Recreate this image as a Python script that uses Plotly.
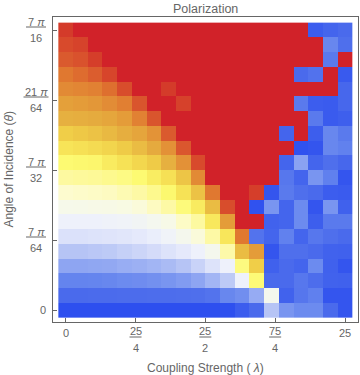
import math
import plotly.graph_objects as go

# ---- data -------------------------------------------------------------
n = 20
coupling = [25 * i / (n - 1) for i in range(n)]                  # lambda
angles = [(7 * math.pi / 16) * j / (n - 1) for j in range(n)]    # theta

# polarization levels (0 = blue ... 20 = red), rows listed from top (theta max) to bottom (theta 0)
levels_top_down = [
    [19, 20, 20, 20, 20, 20, 20, 20, 20, 20, 20, 20, 20, 20, 20, 20, 20, 0.5, 0.8, 1.0],
    [18, 18.5, 20, 20, 20, 20, 20, 20, 20, 20, 20, 20, 20, 20, 20, 20, 20, 20, 2.1, 1.2],
    [17, 17.5, 18.8, 20, 20, 20, 20, 20, 20, 20, 20, 20, 20, 20, 20, 20, 20, 20, 1.6, 20],
    [16, 16.4, 16.9, 18.3, 20, 20, 20, 20, 20, 20, 20, 20, 20, 20, 20, 20, 1.0, 1.3, 20, 0.4],
    [15, 15.2, 15.5, 16.3, 17.8, 20, 20, 19, 20, 20, 20, 20, 20, 20, 20, 20, 20, 20, 20, 0.9],
    [14, 14.2, 14.4, 14.9, 15.6, 17.3, 20, 20, 18.6, 20, 20, 20, 20, 20, 20, 20, 1.6, 0.5, 0.45, 0.9],
    [13, 13.1, 13.3, 13.6, 14.2, 15.5, 17.3, 20, 20, 20, 20, 20, 20, 20, 20, 20, 20, 1.6, 0.45, 0.6],
    [12, 12.2, 12.4, 12.7, 13.1, 13.7, 14.6, 17, 20, 20, 20, 20, 20, 20, 20, 0.8, 20, 0.55, 2.1, 1.6],
    [11, 11.2, 11.4, 11.7, 12.1, 12.6, 13.4, 14.7, 17.2, 20, 20, 20, 20, 20, 20, 20, 0.1, 0.24, 2.1, 1.9],
    [10, 10.1, 10.2, 10.7, 11.1, 11.6, 12.1, 13, 14.7, 18, 20, 20, 20, 20, 20, 0.8, 2.9, 0.8, 1.2, 0.9],
    [9, 9.1, 9.2, 9.4, 9.6, 10, 10.6, 11.2, 12.3, 15, 20, 20, 20, 20, 20, 1.5, 0.8, 2.5, 1.85, 0.24],
    [8, 8.1, 8.2, 8.3, 8.6, 8.9, 9.4, 10.1, 11.1, 12.4, 16, 20, 20, 18.8, 0.24, 1.6, 1.2, 1.0, 0.5, 0.45],
    [7, 7.05, 7.1, 7.15, 7.25, 7.6, 8.3, 8.9, 9.8, 10.7, 12.6, 17.8, 20, 0.1, 2.5, 0.8, 2.2, 0.24, 2.5, 0.65],
    [6, 6, 6, 6.1, 6.2, 6.4, 6.7, 7.1, 8.2, 9, 10.8, 14.2, 20, 20, 0.7, 0.8, 2.2, 0.55, 1.6, 1.6],
    [5, 5, 5.1, 5.2, 5.3, 5.5, 5.8, 6.2, 6.8, 7.6, 8.9, 10.9, 16, 1.35, 0.8, 1.9, 0.8, 1.5, 1.2, 1.0],
    [4, 4, 4.1, 4.2, 4.4, 4.6, 4.8, 5.1, 5.5, 6, 6.8, 8.8, 12.6, 14.2, 0.24, 1.2, 1.2, 1.0, 0.7, 0.65],
    [3, 3, 3.05, 3.1, 3.25, 3.35, 3.5, 3.7, 4, 4.5, 5.1, 6, 9.7, 12, 0.65, 1.0, 0.8, 2.2, 0.65, 0.24],
    [2, 2, 2.02, 2.1, 2.2, 2.25, 2.35, 2.5, 2.7, 3, 3.5, 4.2, 6, 9.9, 1.0, 1.0, 1.5, 1.1, 0.7, 0.65],
    [1, 1, 1.02, 1.04, 1.06, 1.08, 1.1, 1.13, 1.16, 1.2, 1.35, 2.1, 2.3, 3.2, 6.8, 0.7, 1.45, 1.85, 0.24, 0.24],
    [0, 0, 0, 0, 0, 0, 0, 0, 0, 0, 0, 0.05, 0.5, 1.0, 4, 2.5, 2.2, 2.2, 1.0, 0.24],
]

# colour map (TemperatureMap-like), one colour per level 0..20
level_colors = [
    "#2D4FEF", "#4A6AEC", "#6484EE", "#8EA5F2", "#B6C4F5", "#DBE1FA", "#EEF1FB",
    "#F6F9EA", "#FDFBCF", "#FDF9A0", "#FDFA72", "#F7E458", "#F0CE48", "#E6B040",
    "#E4A03A", "#E28A35", "#E07830", "#DA5A2E", "#D84A2C", "#D43B2A", "#D12229",
]

# tick labels
x_tick_vals = [0, 25 / 4, 25 / 2, 75 / 4, 25]
x_tick_num = ["0", "25", "25", "75", "25"]
x_tick_den = ["", "4", "2", "4", ""]
y_tick_vals = [0, 7 * math.pi / 64, 7 * math.pi / 32, 21 * math.pi / 64, 7 * math.pi / 16]
y_tick_num = ["0", "7 <i>π</i>", "7 <i>π</i>", "21 <i>π</i>", "7 <i>π</i>"]
y_tick_den = ["", "64", "32", "64", "16"]

# ---- figure -------------------------------------------------------------
FONT = "Liberation Sans, Arial, sans-serif"
TXT = "#666666"
FRAME = "#666666"

z = levels_top_down[::-1]  # bottom-up for the y axis
colorscale = [[i / 20, c] for i, c in enumerate(level_colors)]

fig = go.Figure(go.Heatmap(
    x=coupling, y=angles, z=z, zmin=0, zmax=20,
    colorscale=colorscale, showscale=False, hoverinfo="skip",
))

W, H = 360, 375
ML, MR, MT, MB = 53, 2, 17, 53

axis_common = dict(
    showgrid=False, zeroline=False, showline=True, linecolor=FRAME, linewidth=1,
    mirror=True, ticks="inside", ticklen=4, tickwidth=1, tickcolor=FRAME,
    showticklabels=False,
)
fig.update_xaxes(range=[-1.137, 26.164], tickvals=x_tick_vals, **axis_common)
fig.update_yaxes(range=[-0.0589, 1.4383], tickvals=y_tick_vals, **axis_common)

ann = []
shapes = []
tick_font = dict(family=FONT, size=11, color=TXT)
line_style = dict(color=TXT, width=1)

# x tick labels
for v, num, den in zip(x_tick_vals, x_tick_num, x_tick_den):
    if den:
        ann.append(dict(x=v, xref="x", y=0, yref="paper", text=num, showarrow=False,
                        xanchor="center", yanchor="middle", yshift=-8.5, font=tick_font))
        ann.append(dict(x=v, xref="x", y=0, yref="paper", text=den, showarrow=False,
                        xanchor="center", yanchor="middle", yshift=-26, font=tick_font))
        shapes.append(dict(type="line", xref="x", xsizemode="pixel", xanchor=v, x0=-6, x1=6,
                           yref="paper", ysizemode="pixel", yanchor=0, y0=-15, y1=-15,
                           line=line_style))
    else:
        ann.append(dict(x=v, xref="x", y=0, yref="paper", text=num, showarrow=False,
                        xanchor="center", yanchor="middle", yshift=-11, font=tick_font))

# y tick labels
for v, num, den in zip(y_tick_vals, y_tick_num, y_tick_den):
    if den:
        half = 12.5 if num.startswith("21") else 10
        ann.append(dict(x=0, xref="paper", y=v, yref="y", text=num, showarrow=False,
                        xanchor="center", yanchor="middle", xshift=-17, yshift=8, font=tick_font))
        ann.append(dict(x=0, xref="paper", y=v, yref="y", text=den, showarrow=False,
                        xanchor="center", yanchor="middle", xshift=-17, yshift=-8, font=tick_font))
        shapes.append(dict(type="line", xref="paper", xsizemode="pixel", xanchor=0,
                           x0=-17 - half, x1=-17 + half,
                           yref="y", ysizemode="pixel", yanchor=v, y0=3, y1=3,
                           line=line_style))
    else:
        ann.append(dict(x=0, xref="paper", y=v, yref="y", text=num, showarrow=False,
                        xanchor="right", yanchor="middle", xshift=-5, font=tick_font))

# titles
ann.append(dict(x=0.5, xref="paper", y=1, yref="paper", text="Polarization", showarrow=False,
                xanchor="center", yanchor="middle", yshift=8.5,
                font=dict(family=FONT, size=12.5, color=TXT)))
ann.append(dict(x=0.5, xref="paper", y=0, yref="paper", text="Coupling Strength ( <i>λ</i>)",
                showarrow=False, xanchor="center", yanchor="middle", yshift=-46,
                font=dict(family=FONT, size=12, color=TXT)))
ann.append(dict(x=0, xref="paper", y=0.5, yref="paper", text="Angle of Incidence (<i>θ</i>)",
                showarrow=False, xanchor="center", yanchor="middle", xshift=-45, textangle=-90,
                font=dict(family=FONT, size=12, color=TXT)))

fig.update_layout(
    width=W, height=H, margin=dict(l=ML, r=MR, t=MT, b=MB),
    paper_bgcolor="white", plot_bgcolor="white",
    annotations=ann, shapes=shapes, showlegend=False,
)

fig.write_html(
    "out.html",
    config={"displayModeBar": False},
    post_script="document.body.style.margin='0px';document.body.style.overflow='hidden';",
)
